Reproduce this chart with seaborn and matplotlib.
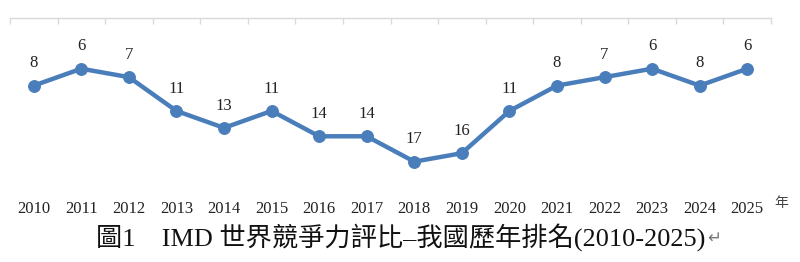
import matplotlib
matplotlib.use("Agg")
import matplotlib.pyplot as plt
import seaborn as sns
import pandas as pd

years = ["2010", "2011", "2012", "2013", "2014", "2015", "2016", "2017",
         "2018", "2019", "2020", "2021", "2022", "2023", "2024", "2025"]
ranks = [8, 6, 7, 11, 13, 11, 14, 14, 17, 16, 11, 8, 7, 6, 8, 6]
title_text = "圖1\u3000IMD 世界競爭力評比–我國歷年排名(2010-2025)"
unit_text = "年"

sns.set_theme(style="white")
plt.rcParams['font.family'] = ['Liberation Serif', 'Noto Sans CJK TC', 'DejaVu Sans']

df = pd.DataFrame({"year": years, "rank": ranks, "pos": range(len(years))})

fig = plt.figure(figsize=(8, 2.62), dpi=100)
ax = fig.add_axes([10/800, 1-187/262, (771-10)/800, (187-18)/262])

blue = "#4a7ebb"
sns.lineplot(data=df, x="pos", y="rank", ax=ax, color=blue, linewidth=3.2,
             marker="o", markersize=8.5, markeredgecolor=blue, markerfacecolor=blue)

ax.set_xlim(-0.5, len(years) - 0.5)
ax.set_ylim(20, 0)

for x, r in zip(df["pos"], df["rank"]):
    ax.annotate(str(r), (x, r), xytext=(0, 16), textcoords="offset points",
                ha="center", va="center", fontsize=12, color="#222222")

for s in ["left", "right", "bottom"]:
    ax.spines[s].set_visible(False)
ax.spines["top"].set_color("#d9d9d9")
ax.spines["top"].set_linewidth(1.0)

ax.set_yticks([])
ax.set_xticks(list(df["pos"]))
ax.set_xticklabels(years, fontsize=12, color="#222222")
ax.tick_params(axis="x", which="major", bottom=False, top=False, pad=4)
ax.set_xticks([i - 0.5 for i in range(len(years) + 1)], minor=True)
ax.tick_params(axis="x", which="minor", top=True, bottom=False, direction="in",
               length=4, color="#d9d9d9", width=1)
ax.set_xlabel("")
ax.set_ylabel("")

fig.text(781/800, 1-203/262, unit_text, ha="center", va="center", fontsize=10,
         color="#444444")
t = fig.text(96/800, 1-237/262, title_text, ha="left", va="center", fontsize=18.9,
             color="#111111")
fig.canvas.draw()
bb = t.get_window_extent()
fig.text((bb.x1 + 9) / 800, 1-238/262, "\u21b5", ha="center", va="center", fontsize=12,
         color="#777777", family="DejaVu Sans")

fig.savefig("out.png", dpi=100, facecolor="white")
